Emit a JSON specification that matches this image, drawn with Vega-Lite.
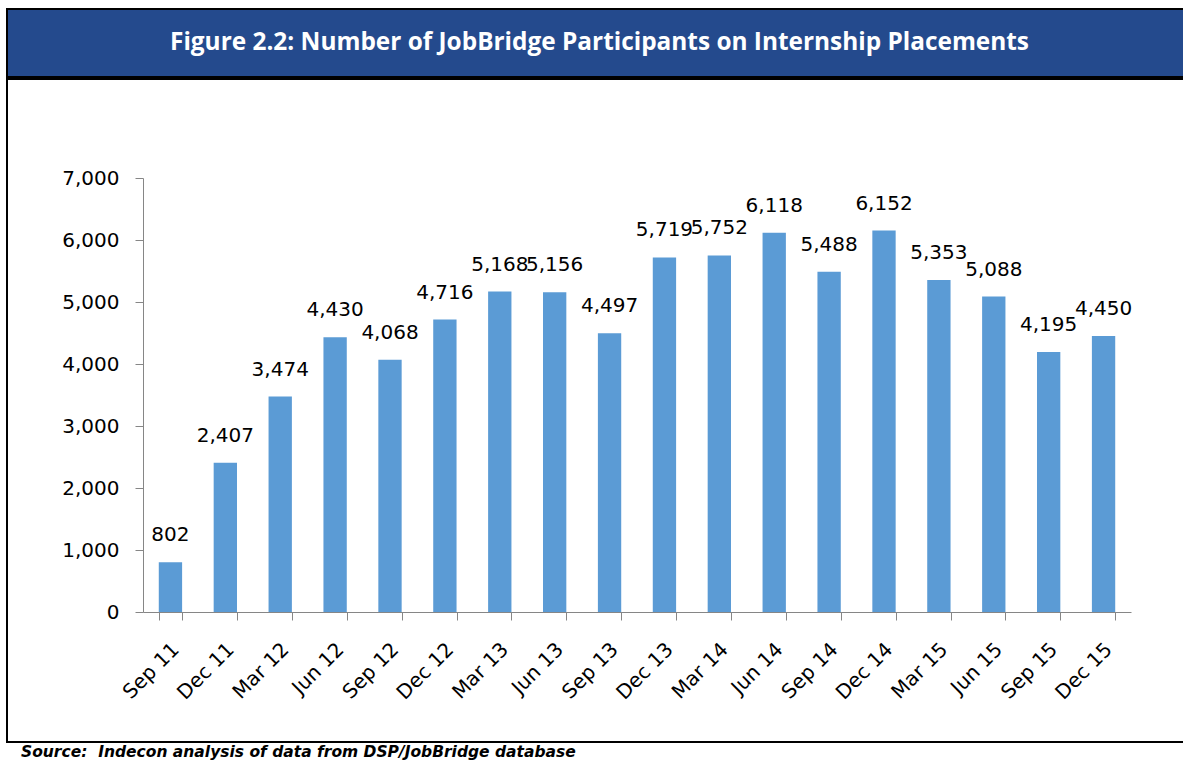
{
  "$schema": "https://vega.github.io/schema/vega-lite/v6.json",
  "padding": {"left": 6, "top": 8, "right": 0, "bottom": 0},
  "background": "white",
  "spacing": 0,
  "config": {"font": "DejaVu Sans"},
  "vconcat": [
    {
      "width": 1185,
      "height": 68,
      "view": {"fill": "#244A8D", "stroke": "black", "strokeWidth": 2},
      "data": {"values": [{"title": "Figure 2.2: Number of JobBridge Participants on Internship Placements"}]},
      "mark": {"type": "text", "color": "white", "font": "Open Sans", "fontWeight": "bold", "fontSize": 24.4, "baseline": "middle", "align": "center"},
      "encoding": {"text": {"field": "title"}}
    },
    {
      "width": 1185,
      "height": 663,
      "view": {"fill": "white", "stroke": "black", "strokeWidth": 2},
      "title": {
        "text": "Source: \u00a0Indecon analysis of data from DSP/JobBridge database",
        "orient": "bottom",
        "anchor": "start",
        "frame": "group",
        "dx": 14,
        "offset": 3,
        "font": "DejaVu Sans",
        "fontSize": 15.5,
        "fontStyle": "italic",
        "fontWeight": "bold",
        "color": "black"
      },
      "data": {
        "values": [
          {"quarter": "Sep 11", "participants": 802},
          {"quarter": "Dec 11", "participants": 2407},
          {"quarter": "Mar 12", "participants": 3474},
          {"quarter": "Jun 12", "participants": 4430},
          {"quarter": "Sep 12", "participants": 4068},
          {"quarter": "Dec 12", "participants": 4716},
          {"quarter": "Mar 13", "participants": 5168},
          {"quarter": "Jun 13", "participants": 5156},
          {"quarter": "Sep 13", "participants": 4497},
          {"quarter": "Dec 13", "participants": 5719},
          {"quarter": "Mar 14", "participants": 5752},
          {"quarter": "Jun 14", "participants": 6118},
          {"quarter": "Sep 14", "participants": 5488},
          {"quarter": "Dec 14", "participants": 6152},
          {"quarter": "Mar 15", "participants": 5353},
          {"quarter": "Jun 15", "participants": 5088},
          {"quarter": "Sep 15", "participants": 4195},
          {"quarter": "Dec 15", "participants": 4450}
        ]
      },
      "encoding": {
        "x": {
          "field": "quarter",
          "type": "nominal",
          "sort": null,
          "scale": {"range": [136, 1124], "paddingInner": 0.575, "paddingOuter": 0.2875},
          "axis": {
            "title": null,
            "offset": -130,
            "labelAngle": -45,
            "labelAlign": "right",
            "labelBaseline": "top",
            "labelPadding": 19,
            "labelOffset": -2,
            "labelFont": "DejaVu Sans",
            "labelFontSize": 20,
            "labelColor": "black",
            "labelOverlap": false,
            "tickSize": 8,
            "tickBand": "extent",
            "domainColor": "#868686",
            "tickColor": "#868686",
            "grid": false
          }
        },
        "y": {
          "field": "participants",
          "type": "quantitative",
          "scale": {"domain": [0, 7000], "range": [533, 99], "nice": false, "zero": true},
          "axis": {
            "title": null,
            "offset": -136,
            "values": [0, 1000, 2000, 3000, 4000, 5000, 6000, 7000],
            "format": ",.0f",
            "labelFont": "DejaVu Sans",
            "labelFontSize": 20,
            "labelColor": "black",
            "labelPadding": 16,
            "labelOverlap": false,
            "tickSize": 8,
            "domainColor": "#868686",
            "tickColor": "#868686",
            "grid": false
          }
        }
      },
      "layer": [
        {"mark": {"type": "bar", "color": "#5B9BD5"}},
        {
          "mark": {"type": "text", "dy": -27, "fontSize": 20, "baseline": "middle", "color": "black", "font": "DejaVu Sans"},
          "encoding": {"text": {"field": "participants", "type": "quantitative", "format": ",.0f"}}
        }
      ]
    }
  ]
}
